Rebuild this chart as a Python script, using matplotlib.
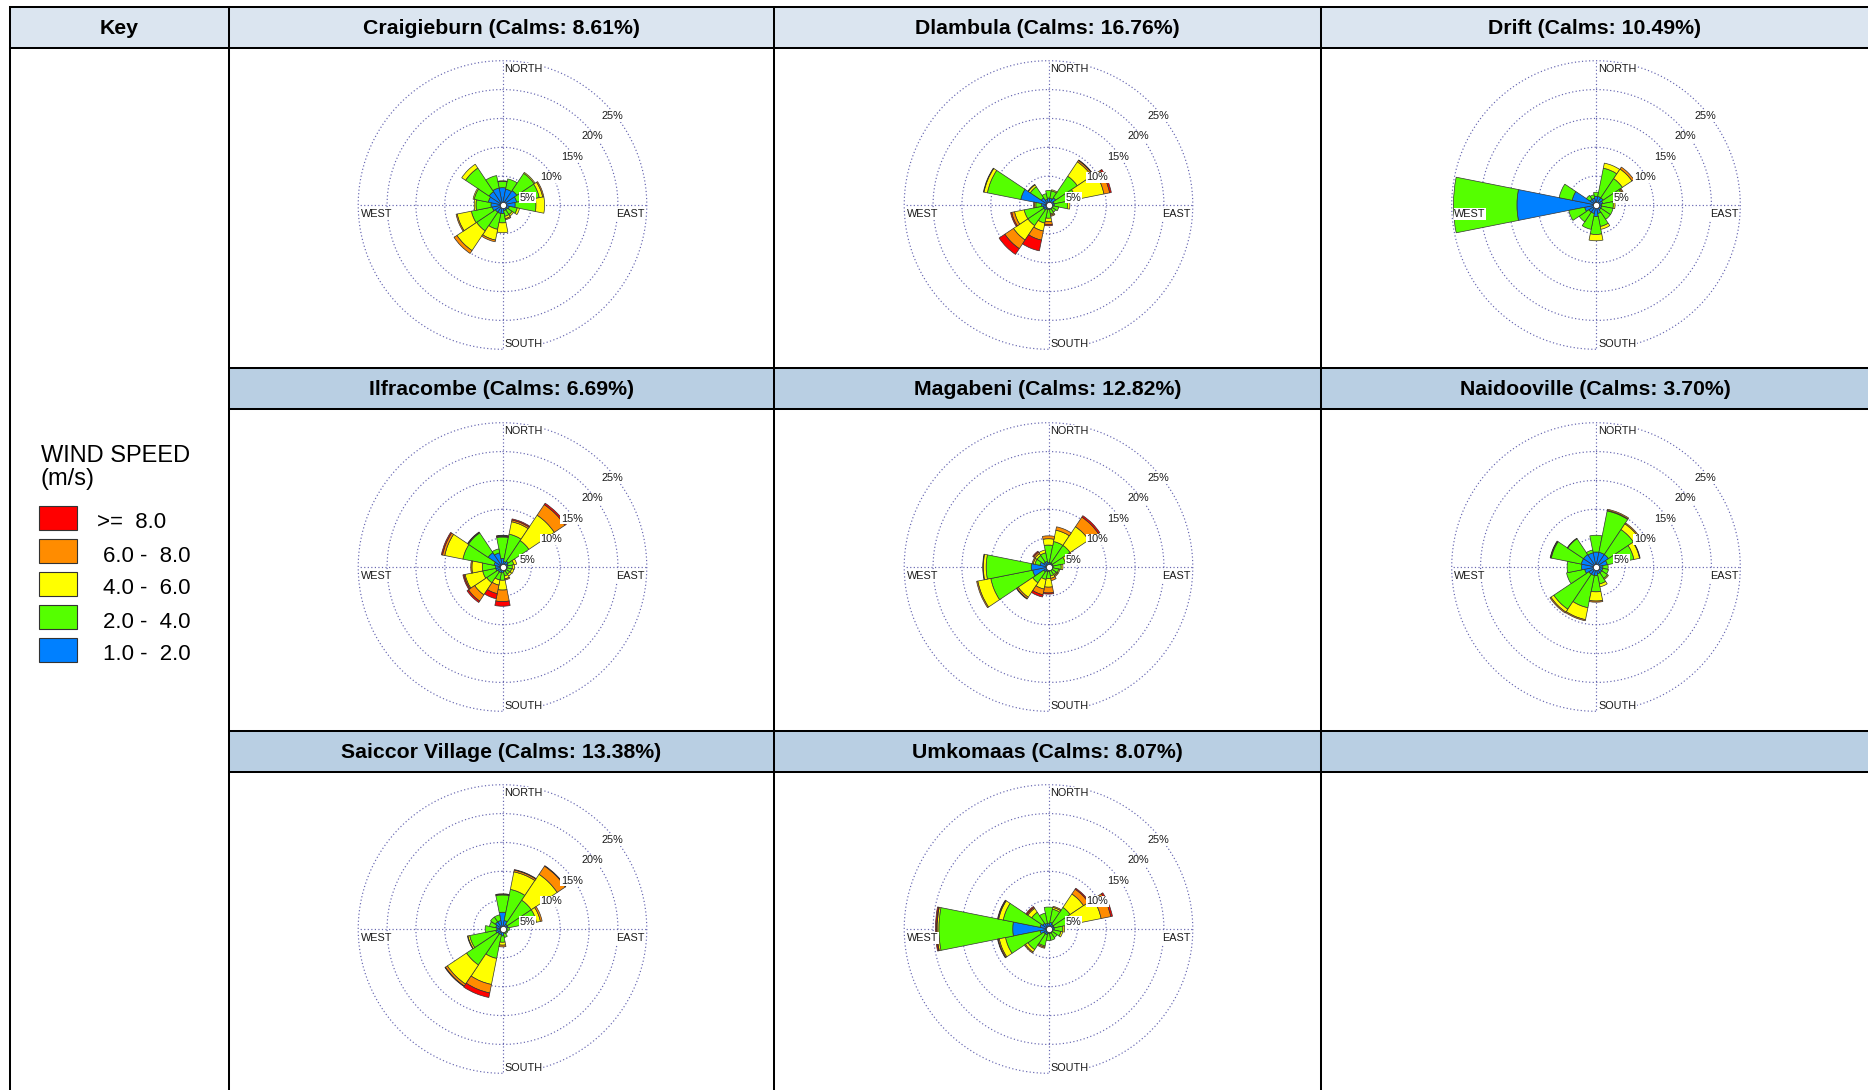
import numpy as np
import matplotlib

matplotlib.use("Agg")
import matplotlib.pyplot as plt
from matplotlib.lines import Line2D
from matplotlib.patches import Rectangle

plt.rcParams["font.family"] = ["Liberation Sans", "DejaVu Sans"]

# Wind speed classes (innermost first) and their fill colours
SPEED_LABELS = ["1.0 -  2.0", "2.0 -  4.0", "4.0 -  6.0", "6.0 -  8.0", ">=  8.0"]
SPEED_COLORS = ["#0080ff", "#55ff00", "#ffff00", "#ff8c00", "#ff0000"]

DIRECTIONS = ["N", "NNE", "NE", "ENE", "E", "ESE", "SE", "SSE",
              "S", "SSW", "SW", "WSW", "W", "WNW", "NW", "NNW"]
RINGS = [5, 10, 15, 20, 25]

# Cumulative frequency (%) per direction, up to the top of each speed class
CRAIGIEBURN = [
    [3.0, 4.1, 4.2, 4.2, 4.2], [2.8, 4.6, 4.6, 4.6, 4.6], [3.0, 6.6, 6.8, 6.8, 6.8],
    [2.5, 6.5, 7.1, 7.3, 7.3], [2.2, 5.8, 7.3, 7.3, 7.3], [1.2, 2.6, 3.0, 3.0, 3.0],
    [1.0, 2.0, 2.3, 2.3, 2.3], [1.0, 2.0, 2.4, 2.6, 2.6], [1.5, 3.1, 4.8, 4.8, 4.8],
    [1.5, 4.3, 6.2, 6.5, 6.5], [1.5, 5.4, 9.5, 10.1, 10.1], [1.8, 5.5, 8.0, 8.2, 8.2],
    [2.0, 4.6, 4.9, 4.9, 4.9], [2.5, 5.0, 5.2, 5.2, 5.2], [2.8, 7.7, 8.5, 8.5, 8.5],
    [3.0, 5.2, 5.2, 5.2, 5.2],
]
DLAMBULA = [
    [1.2, 2.5, 2.5, 2.5, 2.5], [1.2, 2.5, 2.7, 2.7, 2.7], [1.5, 6.0, 9.0, 9.3, 9.4],
    [1.0, 4.8, 9.8, 10.8, 11.1], [1.0, 3.3, 3.7, 3.7, 3.7], [0.8, 1.8, 1.8, 1.8, 1.8],
    [0.8, 1.5, 1.5, 1.5, 1.5], [0.8, 1.6, 1.8, 2.0, 2.0], [0.8, 2.3, 2.9, 3.4, 3.6],
    [0.8, 3.2, 4.6, 6.2, 8.1], [1.0, 4.3, 7.3, 9.1, 10.3], [1.0, 4.3, 6.0, 6.5, 6.7],
    [1.2, 2.2, 2.4, 2.6, 2.6], [4.9, 10.8, 11.4, 11.5, 11.5], [1.5, 3.8, 4.2, 4.3, 4.3],
    [1.0, 2.0, 2.0, 2.0, 2.0],
]
DRIFT = [
    [1.5, 2.2, 2.2, 2.2, 2.2], [1.5, 6.5, 7.4, 7.4, 7.4], [1.5, 5.5, 7.5, 7.9, 7.9],
    [1.2, 4.8, 5.0, 5.2, 5.2], [1.0, 3.0, 3.3, 3.3, 3.3], [1.0, 3.0, 3.0, 3.0, 3.0],
    [1.0, 3.0, 3.0, 3.0, 3.0], [1.5, 3.8, 4.3, 4.3, 4.3], [2.0, 5.1, 6.2, 6.2, 6.2],
    [1.5, 4.3, 4.3, 4.3, 4.3], [1.5, 3.5, 3.5, 3.5, 3.5], [2.0, 4.8, 4.8, 4.8, 4.8],
    [13.7, 24.7, 24.7, 24.7, 24.7], [4.2, 6.5, 6.5, 6.5, 6.5], [1.2, 2.0, 2.0, 2.0, 2.0],
    [1.2, 1.8, 1.8, 1.8, 1.8],
]
ILFRACOMBE = [
    [1.5, 5.2, 5.3, 5.4, 5.5], [1.0, 5.8, 8.0, 8.3, 8.5], [1.2, 5.5, 10.8, 13.0, 13.3],
    [1.0, 2.0, 2.5, 2.5, 2.5], [0.8, 1.7, 2.1, 2.1, 2.1], [0.8, 1.6, 2.0, 2.0, 2.0],
    [0.8, 1.5, 1.9, 1.9, 1.9], [0.8, 1.6, 2.1, 2.3, 2.3], [1.0, 2.3, 4.0, 6.0, 6.8],
    [1.0, 2.3, 3.2, 4.7, 5.6], [1.0, 3.3, 5.8, 7.1, 7.4], [1.2, 3.5, 6.6, 6.8, 7.0],
    [1.2, 3.5, 5.3, 5.5, 5.5], [1.5, 7.0, 10.2, 10.6, 10.8], [3.0, 7.1, 7.2, 7.3, 7.3],
    [2.5, 3.2, 3.2, 3.2, 3.2],
]
MAGABENI = [
    [0.8, 3.8, 4.9, 5.4, 5.4], [0.8, 4.5, 6.5, 7.1, 7.1], [0.8, 4.5, 8.4, 10.4, 10.7],
    [0.8, 3.0, 3.8, 4.3, 4.5], [0.8, 2.2, 2.5, 2.5, 2.5], [0.7, 1.8, 2.0, 2.0, 2.0],
    [0.7, 1.6, 1.8, 2.0, 2.0], [0.7, 1.6, 2.0, 2.4, 2.4], [0.8, 2.0, 3.5, 4.5, 4.7],
    [0.8, 2.2, 3.9, 4.9, 5.3], [1.0, 3.3, 6.3, 6.6, 6.7], [2.8, 10.2, 12.5, 12.7, 12.7],
    [3.0, 10.8, 11.3, 11.4, 11.4], [1.5, 2.4, 2.7, 2.9, 2.9], [1.0, 2.4, 2.8, 3.1, 3.3],
    [1.0, 2.5, 3.0, 3.0, 3.0],
]
NAIDOOVILLE = [
    [2.6, 5.5, 5.5, 5.5, 5.5], [2.6, 9.9, 10.0, 10.2, 10.2], [2.6, 7.8, 9.0, 9.2, 9.2],
    [2.0, 6.7, 7.7, 7.8, 7.8], [1.2, 2.1, 2.1, 2.1, 2.1], [1.2, 2.2, 2.2, 2.2, 2.2],
    [1.2, 2.4, 2.6, 2.6, 2.6], [1.2, 3.0, 3.5, 3.5, 3.5], [1.5, 4.3, 5.9, 6.1, 6.1],
    [1.5, 7.2, 9.3, 9.5, 9.5], [1.5, 8.8, 9.4, 9.6, 9.6], [2.0, 5.2, 5.2, 5.2, 5.2],
    [2.5, 5.0, 5.0, 5.0, 5.0], [2.6, 7.9, 8.0, 8.1, 8.1], [2.6, 5.9, 5.9, 6.0, 6.0],
    [2.5, 3.0, 3.0, 3.0, 3.0],
]
SAICCOR_VILLAGE = [
    [2.9, 5.9, 6.0, 6.1, 6.1], [1.5, 7.0, 10.1, 10.4, 10.5], [1.0, 6.0, 11.4, 13.1, 13.2],
    [1.0, 6.0, 6.7, 7.0, 7.0], [0.6, 1.2, 1.2, 1.2, 1.2], [0.6, 1.0, 1.0, 1.0, 1.0],
    [0.6, 1.0, 1.0, 1.0, 1.0], [0.8, 1.5, 1.5, 1.5, 1.5], [1.2, 2.3, 2.8, 3.1, 3.1],
    [1.0, 5.2, 9.8, 11.3, 12.1], [1.0, 7.5, 11.5, 11.9, 12.0], [1.2, 5.8, 6.1, 6.2, 6.2],
    [1.0, 3.0, 3.0, 3.0, 3.0], [1.2, 2.3, 2.3, 2.3, 2.3], [1.5, 2.5, 2.5, 2.5, 2.5],
    [1.5, 2.5, 2.5, 2.5, 2.5],
]
UMKOMAAS = [
    [1.0, 3.8, 3.8, 3.8, 3.8], [1.2, 3.5, 3.8, 4.0, 4.0], [1.0, 4.5, 7.3, 8.3, 8.5],
    [1.0, 4.0, 9.3, 11.0, 11.3], [1.0, 2.5, 2.8, 2.8, 2.8], [0.8, 2.2, 2.5, 2.5, 2.5],
    [0.8, 1.8, 1.8, 1.8, 1.8], [0.8, 2.0, 2.0, 2.0, 2.0], [0.8, 2.0, 2.0, 2.0, 2.0],
    [1.0, 3.0, 3.2, 3.4, 3.4], [1.0, 4.3, 4.8, 5.0, 5.0], [1.5, 7.6, 8.7, 8.9, 9.0],
    [6.2, 19.0, 19.3, 19.4, 19.6], [1.5, 8.0, 8.8, 8.9, 9.0], [1.2, 3.5, 4.3, 4.5, 4.7],
    [1.0, 2.8, 2.8, 2.8, 2.8],
]

STATION_NAMES = ["Craigieburn", "Dlambula", "Drift", "Ilfracombe", "Magabeni",
                 "Naidooville", "Saiccor Village", "Umkomaas"]
CALMS = [8.61, 16.76, 10.49, 6.69, 12.82, 3.70, 13.38, 8.07]
STATION_DATA = [CRAIGIEBURN, DLAMBULA, DRIFT, ILFRACOMBE, MAGABENI,
                NAIDOOVILLE, SAICCOR_VILLAGE, UMKOMAAS]

# Page layout in pixels
W_PX, H_PX = 1868, 1090
COL_X = [10, 229, 774, 1321, 1869]
ROW_Y = [7, 48, 368, 409, 731, 772, 1092]
ROSE_R = 144.3
LINE_W = 1.45
GRID_COLOR = "#6464b0"
HEAD_LIGHT = "#dbe5f0"
HEAD_DARK = "#b9cfe3"


def fx(x):
    return x / W_PX


def fy(y):
    return 1 - y / H_PX


def hline(fig, y, x0, x1):
    fig.add_artist(Line2D([fx(x0), fx(x1)], [fy(y), fy(y)], color="black", lw=LINE_W))


def vline(fig, x, y0, y1):
    fig.add_artist(Line2D([fx(x), fx(x)], [fy(y0), fy(y1)], color="black", lw=LINE_W))


def draw_rose(fig, cx, cy, data):
    ax = fig.add_axes(
        [fx(cx - ROSE_R), fy(cy + ROSE_R), 2 * ROSE_R / W_PX, 2 * ROSE_R / H_PX],
        projection="polar",
    )
    ax.set_theta_zero_location("N")
    ax.set_theta_direction(-1)
    ax.set_ylim(0, RINGS[-1])
    ax.axis("off")

    # dotted range rings and compass cross
    t = np.linspace(0, 2 * np.pi, 400)
    for r in RINGS:
        ax.plot(t, np.full_like(t, r), ls=(0, (1, 2)), color=GRID_COLOR, lw=0.85,
                zorder=1, clip_on=False)
    for a in np.deg2rad([0, 90, 180, 270]):
        ax.plot([a, a], [0, RINGS[-1]], ls=(0, (1, 2)), color=GRID_COLOR, lw=0.85,
                zorder=1, clip_on=False)

    theta = np.deg2rad(np.arange(len(DIRECTIONS)) * 22.5)
    cum = np.array(data, dtype=float)
    bottoms = np.hstack([np.zeros((len(DIRECTIONS), 1)), cum[:, :-1]])
    for k, color in enumerate(SPEED_COLORS):
        h = cum[:, k] - bottoms[:, k]
        keep = h > 0
        ax.bar(theta[keep], h[keep], width=2 * np.pi / len(DIRECTIONS),
               bottom=bottoms[keep, k], color=color, edgecolor="#333333",
               linewidth=0.5, zorder=3)

    # calm centre
    ax.plot([0], [0], "o", ms=4.5, mfc="white", mec="#333333", mew=0.6, zorder=5,
            clip_on=False)

    box = dict(boxstyle="square,pad=0.05", fc="white", ec="none")
    txt = dict(textcoords="offset points", fontsize=7.8, color="#1a1a1a", bbox=box,
               zorder=6, annotation_clip=False)
    for r in RINGS:
        ax.annotate(f"{r}%", xy=(np.deg2rad(45), r), xytext=(-2.2, -9.4),
                    ha="left", va="center", **txt)
    rmax = RINGS[-1]
    ax.annotate("NORTH", xy=(0, rmax), xytext=(1.4, -5.8), ha="left", va="center", **txt)
    ax.annotate("SOUTH", xy=(np.pi, rmax), xytext=(1.6, 3.6), ha="left", va="center", **txt)
    ax.annotate("WEST", xy=(1.5 * np.pi, rmax), xytext=(1.9, -6.5), ha="left",
                va="center", **txt)
    ax.annotate("EAST", xy=(0.5 * np.pi, rmax), xytext=(-1.5, -6.5), ha="right",
                va="center", **txt)


fig = plt.figure(figsize=(W_PX / 100, H_PX / 100), dpi=100)

# header fills
fig.add_artist(Rectangle((fx(COL_X[0]), fy(ROW_Y[1])), fx(COL_X[-1]) - fx(COL_X[0]),
                         fy(ROW_Y[0]) - fy(ROW_Y[1]), facecolor=HEAD_LIGHT, edgecolor="none"))
for top, bot in [(ROW_Y[2], ROW_Y[3]), (ROW_Y[4], ROW_Y[5])]:
    fig.add_artist(Rectangle((fx(COL_X[1]), fy(bot)), fx(COL_X[-1]) - fx(COL_X[1]),
                             fy(top) - fy(bot), facecolor=HEAD_DARK, edgecolor="none"))

# table grid
hline(fig, ROW_Y[0], COL_X[0], COL_X[-1])
hline(fig, ROW_Y[1], COL_X[0], COL_X[-1])
for y in ROW_Y[2:6]:
    hline(fig, y, COL_X[1], COL_X[-1])
for x in COL_X[:-1]:
    vline(fig, x, ROW_Y[0], ROW_Y[-1])

# header texts
head_font = dict(ha="center", va="center", fontsize=15.3, fontweight="bold", color="black")
fig.text(fx((COL_X[0] + COL_X[1]) / 2), fy(28), "Key", **head_font)
head_rows = [(ROW_Y[0] + ROW_Y[1]) / 2, (ROW_Y[2] + ROW_Y[3]) / 2, (ROW_Y[4] + ROW_Y[5]) / 2]
body_rows = [(ROW_Y[1] + ROW_Y[2]) / 2, (ROW_Y[3] + ROW_Y[4]) / 2, (ROW_Y[5] + ROW_Y[6]) / 2]
for i, (name, calm, data) in enumerate(zip(STATION_NAMES, CALMS, STATION_DATA)):
    row, col = divmod(i, 3)
    xc = (COL_X[col + 1] + COL_X[col + 2]) / 2
    fig.text(fx(xc), fy(head_rows[row] + 1), f"{name} (Calms: {calm:.2f}%)", **head_font)
    draw_rose(fig, xc + 1, body_rows[row] - 3, data)

# key
fig.text(fx(41), fy(462), "WIND SPEED", fontsize=17, ha="left", va="baseline")
fig.text(fx(41), fy(485), "(m/s)", fontsize=17, ha="left", va="baseline")
box_tops = [506, 539, 572, 605, 638]
for top, label, color in zip(box_tops, SPEED_LABELS[::-1], SPEED_COLORS[::-1]):
    fig.add_artist(Rectangle((fx(39), fy(top + 24)), 38 / W_PX, 24 / H_PX,
                             facecolor=color, edgecolor="#333333", lw=0.8))
    x_lab = 97 if label.startswith(">") else 103
    fig.text(fx(x_lab), fy(top + 17), label, fontsize=16, ha="left", va="center")

fig.savefig("out.png", dpi=100)
